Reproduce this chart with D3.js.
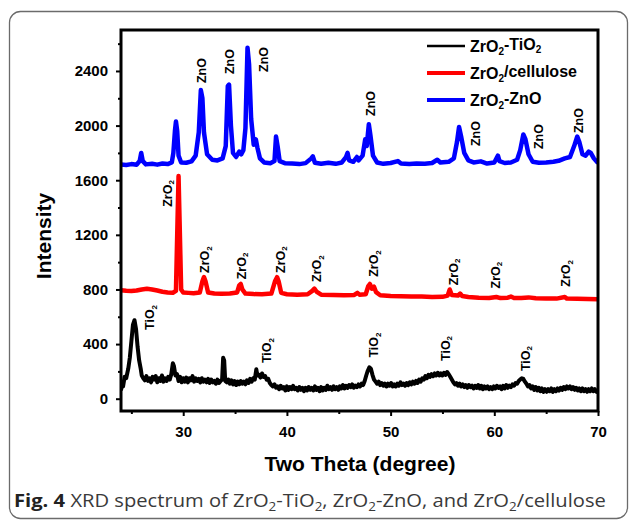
<!DOCTYPE html>
<html>
<head>
<meta charset="utf-8">
<script src="https://cdn.jsdelivr.net/npm/d3@7"></script>
<style>
  body { margin: 0; background: #fff; }
  svg { display: block; font-family: "Liberation Sans", Arial, sans-serif; }
</style>
</head>
<body>
<div id="chart"></div>
<script>
// XRD patterns, [two theta, intensity]
const tioData = [
  [24.0, 60], [24.1, 110], [24.2, 90], [24.35, 160], [24.5, 150], [24.7, 220], [24.85, 300],
  [25.0, 420], [25.15, 540], [25.3, 575], [25.45, 510], [25.6, 380], [25.75, 280], [25.9, 220],
  [26.0, 170], [26.15, 150], [26.3, 135], [26.45, 165], [26.6, 130], [26.75, 150], [26.9, 120],
  [27.05, 160], [27.2, 140], [27.35, 165], [27.5, 120], [27.65, 150], [27.8, 130], [27.95, 170],
  [28.1, 125], [28.25, 150], [28.4, 130], [28.55, 160], [28.7, 140], [28.85, 180], [29.0, 260],
  [29.1, 240], [29.25, 170], [29.4, 180], [29.55, 130], [29.7, 160], [29.85, 120], [30.0, 150],
  [30.15, 125], [30.3, 155], [30.45, 120], [30.6, 150], [30.75, 135], [30.9, 165], [31.05, 125],
  [31.2, 150], [31.35, 130], [31.5, 145], [31.65, 120], [31.8, 150], [31.95, 125], [32.1, 140],
  [32.25, 120], [32.4, 145], [32.55, 115], [32.7, 140], [32.85, 120], [33.0, 130], [33.15, 110],
  [33.3, 140], [33.45, 115], [33.6, 130], [33.75, 140], [33.85, 300], [33.95, 280], [34.05, 130],
  [34.2, 120], [34.35, 140], [34.5, 110], [34.65, 135], [34.8, 105], [34.95, 130], [35.1, 100],
  [35.25, 125], [35.4, 105], [35.55, 130], [35.7, 110], [35.85, 125], [36.0, 105], [36.15, 135],
  [36.3, 115], [36.45, 145], [36.6, 125], [36.75, 150], [36.9, 140], [37.05, 215], [37.15, 170],
  [37.3, 175], [37.45, 155], [37.6, 185], [37.75, 160], [37.9, 165], [38.05, 140], [38.2, 145],
  [38.35, 115], [38.5, 100], [38.65, 90], [38.8, 105], [38.95, 80], [39.1, 90], [39.25, 70],
  [39.4, 95], [39.55, 75], [39.7, 85], [39.85, 60], [40.0, 90], [40.15, 65], [40.3, 85],
  [40.45, 70], [40.6, 95], [40.75, 70], [40.9, 80], [41.05, 60], [41.2, 85], [41.35, 65],
  [41.5, 80], [41.65, 55], [41.8, 80], [41.95, 60], [42.1, 85], [42.25, 65], [42.4, 80],
  [42.55, 60], [42.7, 90], [42.85, 65], [43.0, 80], [43.15, 55], [43.3, 85], [43.45, 60],
  [43.6, 80], [43.75, 65], [43.9, 95], [44.05, 70], [44.2, 85], [44.35, 65], [44.5, 90],
  [44.65, 70], [44.8, 85], [44.95, 65], [45.1, 90], [45.25, 75], [45.4, 100], [45.55, 75],
  [45.7, 95], [45.85, 80], [46.0, 100], [46.15, 85], [46.3, 105], [46.45, 80], [46.6, 95],
  [46.75, 85], [46.9, 105], [47.05, 90], [47.2, 110], [47.35, 100], [47.5, 130], [47.65, 170],
  [47.8, 205], [47.95, 230], [48.1, 220], [48.25, 175], [48.4, 140], [48.55, 125], [48.7, 110],
  [48.85, 125], [49.0, 100], [49.15, 115], [49.3, 95], [49.45, 110], [49.6, 90], [49.75, 110],
  [49.9, 95], [50.05, 115], [50.2, 90], [50.35, 105], [50.5, 90], [50.65, 110], [50.8, 95],
  [50.95, 120], [51.1, 100], [51.25, 110], [51.4, 95], [51.55, 115], [51.7, 100], [51.85, 120],
  [52.0, 105], [52.15, 125], [52.3, 110], [52.45, 130], [52.6, 115], [52.75, 140], [52.9, 125],
  [53.05, 150], [53.2, 140], [53.35, 165], [53.5, 150], [53.65, 175], [53.8, 160], [53.95, 180],
  [54.1, 165], [54.25, 185], [54.4, 170], [54.55, 190], [54.7, 170], [54.85, 185], [55.0, 170],
  [55.15, 190], [55.3, 175], [55.45, 195], [55.6, 180], [55.75, 160], [55.9, 140], [56.05, 120],
  [56.2, 105], [56.35, 115], [56.5, 95], [56.65, 110], [56.8, 90], [56.95, 105], [57.1, 85],
  [57.25, 100], [57.4, 80], [57.55, 100], [57.7, 85], [57.85, 95], [58.0, 75], [58.15, 95],
  [58.3, 80], [58.45, 100], [58.6, 75], [58.75, 95], [58.9, 70], [59.05, 90], [59.2, 75],
  [59.35, 90], [59.5, 70], [59.65, 85], [59.8, 70], [59.95, 90], [60.1, 75], [60.25, 95],
  [60.4, 80], [60.55, 90], [60.7, 70], [60.85, 95], [61.0, 75], [61.15, 100], [61.3, 80],
  [61.45, 95], [61.6, 85], [61.75, 105], [61.9, 95], [62.05, 115], [62.2, 110], [62.35, 130],
  [62.5, 140], [62.65, 150], [62.8, 145], [62.95, 125], [63.1, 110], [63.25, 90], [63.4, 100],
  [63.55, 75], [63.7, 90], [63.85, 65], [64.0, 85], [64.15, 60], [64.3, 80], [64.45, 55],
  [64.6, 75], [64.75, 50], [64.9, 70], [65.05, 50], [65.2, 70], [65.35, 55], [65.5, 75],
  [65.65, 50], [65.8, 70], [65.95, 55], [66.1, 75], [66.25, 60], [66.4, 80], [66.55, 65],
  [66.7, 85], [66.85, 70], [67.0, 90], [67.15, 75], [67.3, 90], [67.45, 70], [67.6, 85],
  [67.75, 65], [67.9, 80], [68.05, 60], [68.2, 75], [68.35, 55], [68.5, 75], [68.65, 55],
  [68.8, 70], [68.95, 50], [69.1, 70], [69.25, 55], [69.4, 75], [69.55, 55], [69.7, 70],
  [69.85, 50], [70.0, 65]
];

const celluloseData = [
  [24.0, 795], [24.5, 790], [25.0, 788], [25.5, 792], [26.0, 800], [26.5, 805], [27.0, 800],
  [27.5, 792], [28.0, 783], [28.5, 778], [29.0, 776], [29.3, 790], [29.45, 1300], [29.55, 1630],
  [29.65, 1300], [29.8, 800], [30.0, 778], [30.5, 775], [31.0, 772], [31.6, 778], [31.85, 860],
  [32.0, 890], [32.15, 860], [32.4, 778], [33.0, 770], [33.7, 768], [34.5, 770], [35.2, 778],
  [35.4, 830], [35.55, 840], [35.7, 800], [36.0, 770], [36.8, 766], [37.6, 765], [38.5, 770],
  [38.85, 860], [39.05, 890], [39.2, 860], [39.45, 775], [40.0, 765], [41.0, 762], [42.0, 765],
  [42.45, 790], [42.65, 806], [42.85, 785], [43.3, 762], [44.5, 760], [45.5, 758], [46.5, 760],
  [46.8, 775], [47.0, 762], [47.6, 765], [47.85, 825], [48.0, 840], [48.2, 805], [48.4, 820],
  [48.6, 780], [49.0, 758], [50.0, 752], [51.0, 750], [52.0, 748], [53.0, 748], [54.0, 745],
  [55.0, 746], [55.5, 755], [55.7, 800], [55.9, 760], [56.5, 755], [56.7, 770], [56.9, 752],
  [57.5, 745], [58.5, 740], [59.5, 738], [60.2, 745], [60.6, 737], [61.3, 740], [61.6, 748],
  [61.9, 737], [62.6, 738], [63.3, 742], [64.0, 735], [65.0, 733], [66.0, 733], [66.8, 745],
  [67.0, 733], [68.0, 732], [69.0, 730], [70.0, 728]
];

const znoData = [
  [24.0, 1715], [24.5, 1712], [25.0, 1718], [25.5, 1714], [25.8, 1740], [25.95, 1800], [26.1, 1740],
  [26.4, 1716], [27.0, 1720], [27.5, 1714], [28.0, 1722], [28.5, 1718], [28.9, 1730], [29.05, 1800],
  [29.2, 1960], [29.3, 2030], [29.42, 1960], [29.55, 1780], [29.8, 1730], [30.3, 1728], [30.8, 1738],
  [31.2, 1780], [31.5, 1950], [31.7, 2260], [31.85, 2200], [32.0, 1950], [32.3, 1790], [32.8, 1750],
  [33.3, 1745], [33.8, 1760], [34.1, 1850], [34.3, 2290], [34.42, 2300], [34.6, 2000], [34.8, 1800],
  [35.1, 1770], [35.4, 1810], [35.6, 1790], [35.8, 1820], [36.0, 1980], [36.2, 2570], [36.35, 2450],
  [36.55, 2050], [36.8, 1860], [37.0, 1900], [37.15, 1840], [37.4, 1760], [37.8, 1730], [38.4, 1725],
  [38.8, 1740], [38.95, 1920], [39.1, 1850], [39.3, 1740], [39.8, 1725], [40.5, 1722], [41.2, 1718],
  [41.8, 1725], [42.35, 1760], [42.5, 1775], [42.7, 1728], [43.3, 1720], [44.0, 1728], [44.7, 1720],
  [45.3, 1730], [45.7, 1770], [45.85, 1800], [46.0, 1745], [46.4, 1735], [46.75, 1770], [46.9, 1745],
  [47.3, 1780], [47.55, 1900], [47.7, 1850], [47.9, 2010], [48.05, 1930], [48.3, 1780], [48.7, 1730],
  [49.3, 1720], [50.0, 1726], [50.7, 1740], [51.0, 1722], [51.8, 1718], [52.5, 1722], [53.3, 1720],
  [54.0, 1726], [54.5, 1750], [54.8, 1730], [55.6, 1735], [56.1, 1760], [56.4, 1880], [56.6, 1990],
  [56.8, 1920], [57.1, 1800], [57.5, 1745], [58.0, 1730], [58.7, 1738], [59.3, 1722], [60.0, 1730],
  [60.35, 1780], [60.5, 1740], [61.0, 1726], [61.6, 1730], [62.2, 1750], [62.5, 1820], [62.8, 1935],
  [63.0, 1900], [63.3, 1790], [63.7, 1735], [64.3, 1728], [65.0, 1730], [65.7, 1735], [66.2, 1742],
  [66.8, 1760], [67.3, 1770], [67.7, 1850], [68.0, 1920], [68.2, 1880], [68.5, 1790], [68.8, 1780],
  [69.1, 1810], [69.3, 1800], [69.6, 1760], [70.0, 1725]
];

// peak labels: [two theta, intensity at label centre]
const znoLabels = [[31.8, 2403], [34.43, 2469], [37.72, 2484], [48.06, 2162], [58.2, 1942], [64.3, 1920], [68.16, 2037]];
const zroLabels = [[28.47, 1503], [32.1, 1019], [35.6, 972], [39.36, 1019], [42.9, 953], [48.38, 990], [56.05, 928], [60.1, 905], [66.9, 918]];
const tioLabels = [[26.8, 595], [38.08, 353], [48.38, 393], [55.3, 368], [63.0, 294]];

const xTicks = [30, 40, 50, 60, 70];
const xMinor = [25, 35, 45, 55, 65];
const yTicks = [0, 400, 800, 1200, 1600, 2000, 2400];
const yMinor = [200, 600, 1000, 1400, 1800, 2200, 2600];

const seriesNames = [["ZrO", "2", "-TiO", "2"], ["ZrO", "2", "/cellulose"], ["ZrO", "2", "-ZnO"]];
const seriesColors = ["#000000", "#ff0000", "#0000ff"];

const svg = d3.select("#chart").append("svg")
  .attr("width", 630)
  .attr("height", 520);

// outer rounded frame
svg.append("rect")
  .attr("x", 9.5).attr("y", 11.5)
  .attr("width", 618).attr("height", 507)
  .attr("rx", 11)
  .attr("fill", "none")
  .attr("stroke", "#6b6b6b")
  .attr("stroke-width", 1.3);

const x = d3.scaleLinear().domain([24, 70]).range([121, 598]);
const y = d3.scaleLinear().domain([-90, 2700]).range([411, 30]);

svg.append("clipPath").attr("id", "clip")
  .append("rect")
  .attr("x", 121).attr("y", 30).attr("width", 477).attr("height", 381);

const line = d3.line().x((d) => x(d[0])).y((d) => y(d[1]));

const plot = svg.append("g").attr("clip-path", "url(#clip)");
plot.append("path").datum(tioData)
  .attr("d", line).attr("fill", "none").attr("stroke", "#000")
  .attr("stroke-width", 4).attr("stroke-linejoin", "round");
plot.append("path").datum(celluloseData)
  .attr("d", line).attr("fill", "none").attr("stroke", "#ff0000")
  .attr("stroke-width", 4.5).attr("stroke-linejoin", "round");
plot.append("path").datum(znoData)
  .attr("d", line).attr("fill", "none").attr("stroke", "#0000ff")
  .attr("stroke-width", 4.5).attr("stroke-linejoin", "round");

// axes
function styleAxis(g) {
  g.select(".domain").remove();
  g.selectAll(".tick line").attr("stroke", "#000").attr("stroke-width", 2);
  g.selectAll(".tick text")
    .attr("fill", "#000")
    .style("font-size", "15px")
    .style("font-weight", "bold")
    .style("font-family", "'Liberation Sans', Arial, sans-serif");
}

svg.append("g")
  .attr("transform", "translate(0,411)")
  .call(d3.axisBottom(x).tickValues(xTicks).tickSize(5).tickPadding(10).tickFormat(d3.format("d")))
  .call(styleAxis);
svg.append("g")
  .attr("transform", "translate(0,411)")
  .call(d3.axisBottom(x).tickValues(xMinor).tickSize(3).tickFormat(""))
  .call(styleAxis);
svg.append("g")
  .attr("transform", "translate(121,0)")
  .call(d3.axisLeft(y).tickValues(yTicks).tickSize(5).tickPadding(8).tickFormat(d3.format("d")))
  .call(styleAxis);
svg.append("g")
  .attr("transform", "translate(121,0)")
  .call(d3.axisLeft(y).tickValues(yMinor).tickSize(3).tickFormat(""))
  .call(styleAxis);

svg.append("rect")
  .attr("x", 121).attr("y", 30).attr("width", 477).attr("height", 381)
  .attr("fill", "none").attr("stroke", "#000").attr("stroke-width", 3);

// axis titles
svg.append("text")
  .attr("x", 360).attr("y", 471)
  .attr("text-anchor", "middle")
  .style("font-size", "21px").style("font-weight", "bold")
  .text("Two Theta (degree)");
svg.append("text")
  .attr("transform", "translate(51,236) rotate(-90)")
  .attr("text-anchor", "middle")
  .style("font-size", "21px").style("font-weight", "bold")
  .text("Intensity");

// peak labels
function peakLabels(data, base, sub) {
  const t = svg.append("g").selectAll("text")
    .data(data).enter().append("text")
    .attr("transform", (d) => `translate(${x(d[0])},${y(d[1])}) rotate(-90)`)
    .attr("text-anchor", "middle")
    .attr("dy", "0.35em")
    .style("font-size", "12.5px").style("font-weight", "bold");
  t.append("tspan").text(base);
  if (sub) {
    t.append("tspan").attr("dy", "0.3em").style("font-size", "8px").text(sub);
  }
}
peakLabels(znoLabels, "ZnO");
peakLabels(zroLabels, "ZrO", "2");
peakLabels(tioLabels, "TiO", "2");

// legend
const legend = svg.append("g").selectAll("g")
  .data(seriesNames).enter().append("g")
  .attr("transform", (d, i) => `translate(0,${52 + i * 27})`);
legend.append("line")
  .attr("x1", 427).attr("x2", 465).attr("y1", -6).attr("y2", -6)
  .attr("stroke", (d, i) => seriesColors[i])
  .attr("stroke-width", (d, i) => (i === 0 ? 2.5 : 4));
const lt = legend.append("text")
  .attr("x", 470)
  .style("font-size", "16px").style("font-weight", "bold");
lt.each(function (parts) {
  const t = d3.select(this);
  parts.forEach((p, j) => {
    const isSub = j % 2 === 1;
    t.append("tspan")
      .attr("dy", isSub ? "0.3em" : j === 0 ? 0 : "-0.3em")
      .style("font-size", isSub ? "10px" : "16px")
      .text(p);
  });
});

// caption, squeezed horizontally to the printed width
const cap = svg.append("text")
  .attr("x", 0).attr("y", 0)
  .style("font-family", "'Open Sans', sans-serif")
  .style("font-size", "18px")
  .attr("fill", "#3a3a3a");
const capParts = [
  ["Fig. 4", "b"], [" XRD spectrum of ZrO", "n"], ["2", "s"], ["-TiO", "n"], ["2", "s"],
  [", ZrO", "n"], ["2", "s"], ["-ZnO, and ZrO", "n"], ["2", "s"], ["/cellulose", "n"]
];
let prevSub = false;
capParts.forEach(([txt, kind]) => {
  const ts = cap.append("tspan").text(txt);
  if (kind === "b") ts.style("font-weight", "bold").attr("fill", "#222");
  if (kind === "s") {
    ts.attr("dy", 4).style("font-size", "12px");
    prevSub = true;
  } else if (prevSub) {
    ts.attr("dy", -4);
    prevSub = false;
  }
});
const capLen = cap.node().getComputedTextLength();
cap.attr("transform", `translate(14,507) scale(${(592 / capLen).toFixed(4)},1)`);
</script>
</body>
</html>
